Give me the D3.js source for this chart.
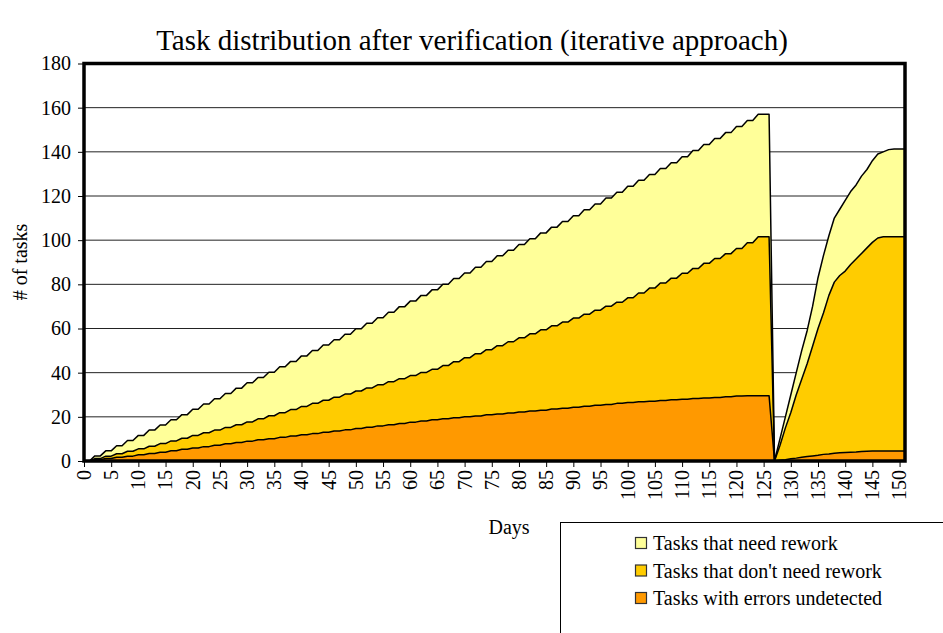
<!DOCTYPE html>
<html>
<head>
<meta charset="utf-8">
<script src="https://cdn.jsdelivr.net/npm/d3@7"></script>
<style>
  body { margin: 0; background: #fff; }
  text { font-family: "Liberation Serif", "Times New Roman", serif; fill: #000; }
</style>
</head>
<body>
<svg id="chart" width="943" height="633"></svg>
<script>
// values, one per day (0..151)
const errorsUndetected = [
  0, 0, 0.6, 0.6, 1.1, 1.1, 1.7, 1.7, 2.2, 2.2,
  2.8, 2.8, 3.4, 3.4, 4.0, 4.0, 4.6, 4.6, 5.3, 5.3,
  5.9, 5.9, 6.5, 6.5, 7.1, 7.1, 7.8, 7.8, 8.4, 8.4,
  9.0, 9.0, 9.6, 9.6, 10.1, 10.1, 10.7, 10.7, 11.3, 11.3,
  11.9, 11.9, 12.4, 12.4, 13.0, 13.0, 13.6, 13.6, 14.1, 14.1,
  14.7, 14.7, 15.3, 15.3, 15.9, 15.9, 16.4, 16.4, 17.0, 17.0,
  17.6, 17.6, 18.1, 18.1, 18.7, 18.7, 19.1, 19.1, 19.6, 19.6,
  20.0, 20.0, 20.4, 20.4, 20.9, 20.9, 21.3, 21.3, 21.7, 21.7,
  22.2, 22.2, 22.6, 22.6, 23.0, 23.0, 23.5, 23.5, 23.9, 23.9,
  24.3, 24.3, 24.8, 24.8, 25.2, 25.2, 25.6, 25.6, 26.1, 26.1,
  26.5, 26.5, 26.8, 26.8, 27.1, 27.1, 27.4, 27.4, 27.7, 27.7,
  28.0, 28.0, 28.3, 28.3, 28.5, 28.5, 28.8, 28.8, 29.1, 29.1,
  29.4, 29.4, 29.5, 29.5, 29.6, 29.6, 29.6, 0, 0.3, 0.6,
  1.0, 1.3, 1.7, 2.0, 2.3, 2.6, 3.0, 3.2, 3.5, 3.7,
  3.9, 4.0, 4.1, 4.3, 4.4, 4.5, 4.5, 4.5, 4.5, 4.5,
  4.5, 4.5
]

const noRework = [
  0, 0, 0.5, 0.5, 1.1, 1.1, 1.6, 1.6, 2.2, 2.2,
  2.7, 2.7, 3.3, 3.3, 3.9, 3.9, 4.5, 4.5, 5.0, 5.0,
  5.7, 5.7, 6.3, 6.3, 6.9, 6.9, 7.4, 7.4, 8.0, 8.0,
  8.7, 8.7, 9.5, 9.5, 10.4, 10.4, 11.2, 11.2, 12.0, 12.0,
  12.8, 12.8, 13.7, 13.7, 14.5, 14.5, 15.3, 15.3, 16.2, 16.2,
  17.0, 17.0, 17.8, 17.8, 18.6, 18.6, 19.5, 19.5, 20.3, 20.3,
  21.1, 21.1, 22.0, 22.0, 22.8, 22.8, 24.1, 24.1, 25.4, 25.4,
  26.8, 26.8, 28.2, 28.2, 29.5, 29.5, 30.9, 30.9, 32.3, 32.3,
  33.6, 33.6, 35.0, 35.0, 36.4, 36.4, 37.7, 37.7, 39.0, 39.0,
  40.4, 40.4, 41.7, 41.7, 43.1, 43.1, 44.5, 44.5, 45.8, 45.8,
  47.4, 47.4, 49.3, 49.3, 51.2, 51.2, 53.2, 53.2, 55.1, 55.1,
  57.0, 57.0, 58.9, 58.9, 61.0, 61.0, 62.9, 62.9, 64.8, 64.8,
  66.8, 66.8, 69.3, 69.3, 71.9, 71.9, 71.9, 0, 6.7, 14.4,
  21.0, 28.7, 35.3, 42.0, 49.7, 57.4, 64.0, 71.8, 77.5, 80.3,
  82.1, 85.0, 87.4, 89.7, 92.1, 94.5, 96.5, 97.0, 97.0, 97.0,
  97.0, 97.0
]

const needRework = [
  0, 0, 1.2, 1.2, 2.4, 2.4, 3.6, 3.6, 4.9, 4.9,
  6.1, 6.1, 7.3, 7.3, 8.4, 8.4, 9.6, 9.6, 10.7, 10.7,
  11.8, 11.8, 13.0, 13.0, 14.2, 14.2, 15.4, 15.4, 16.6, 16.6,
  17.7, 17.7, 18.7, 18.7, 19.7, 19.7, 20.8, 20.8, 21.8, 21.8,
  22.9, 22.9, 23.9, 23.9, 25.0, 25.0, 26.0, 26.0, 27.1, 27.1,
  28.2, 28.2, 29.3, 29.3, 30.4, 30.4, 31.5, 31.5, 32.6, 32.6,
  33.7, 33.7, 34.9, 34.9, 36.0, 36.0, 36.8, 36.8, 37.6, 37.6,
  38.3, 38.3, 39.1, 39.1, 39.9, 39.9, 40.7, 40.7, 41.4, 41.4,
  42.2, 42.2, 43.0, 43.0, 43.9, 43.9, 44.7, 44.7, 45.6, 45.6,
  46.4, 46.4, 47.3, 47.3, 48.1, 48.1, 49.0, 49.0, 49.8, 49.8,
  50.5, 50.5, 51.0, 51.0, 51.4, 51.4, 51.8, 51.8, 52.3, 52.3,
  52.8, 52.8, 53.4, 53.4, 53.8, 53.8, 54.3, 54.3, 54.8, 54.8,
  55.3, 55.3, 55.4, 55.4, 55.5, 55.5, 55.5, 0, 3, 5,
  8, 10, 13, 15, 18, 23, 26, 27, 29, 30,
  32, 33, 33.5, 35, 35.5, 37, 38, 38.5, 39.5, 39.8,
  39.8, 39.8
]

const dayTicks = [0, 5, 10, 15, 20, 25, 30, 35, 40, 45, 50, 55, 60, 65, 70, 75,
  80, 85, 90, 95, 100, 105, 110, 115, 120, 125, 130, 135, 140, 145, 150]
const taskTicks = [0, 20, 40, 60, 80, 100, 120, 140, 160, 180]

const seriesKeys = ["errors", "noRework", "rework"]
const seriesNames = {
  rework: "Tasks that need rework",
  noRework: "Tasks that don't need rework",
  errors: "Tasks with errors undetected"
}
const seriesColors = { rework: "#FFFF99", noRework: "#FFCC00", errors: "#FF9900" }

const rows = errorsUndetected.map((v, i) => ({
  day: i, errors: v, noRework: noRework[i], rework: needRework[i]
}))

const svg = d3.select("#chart")
const plotLeft = 84, plotRight = 905, plotTop = 63.5, plotBottom = 461

const x = d3.scaleLinear().domain([0, rows.length - 1]).range([plotLeft, plotRight])
const y = d3.scaleLinear().domain([0, 180]).range([plotBottom, plotTop])

// gridlines
svg.append("g")
  .selectAll("line")
  .data(taskTicks.slice(1, -1))
  .join("line")
    .attr("x1", plotLeft).attr("x2", plotRight)
    .attr("y1", d => y(d)).attr("y2", d => y(d))
    .attr("stroke", "#222").attr("stroke-width", 1)

const stacked = d3.stack().keys(seriesKeys)(rows)

const area = d3.area()
  .x(d => x(d.data.day))
  .y0(d => y(d[0]))
  .y1(d => y(d[1]))

const topLine = d3.line()
  .x(d => x(d.data.day))
  .y(d => y(d[1]))

svg.append("g")
  .selectAll("path")
  .data(stacked)
  .join("path")
    .attr("d", area)
    .attr("fill", s => seriesColors[s.key])

svg.append("g")
  .selectAll("path")
  .data(stacked)
  .join("path")
    .attr("d", topLine)
    .attr("fill", "none")
    .attr("stroke", "#000")
    .attr("stroke-width", 1.5)
    .attr("stroke-linejoin", "round")

// axes
const yAxis = svg.append("g")
  .attr("transform", `translate(${plotLeft},0)`)
  .call(d3.axisLeft(y).tickValues(taskTicks).tickSize(6).tickPadding(7))
yAxis.select(".domain").remove()
yAxis.selectAll("text").style("font-size", "20px").style("font-family", "Liberation Serif")

const xAxis = svg.append("g")
  .attr("transform", `translate(0,${plotBottom})`)
  .call(d3.axisBottom(x).tickValues(dayTicks).tickSize(6).tickPadding(0))
xAxis.select(".domain").remove()
xAxis.selectAll("text")
  .style("font-size", "20px").style("font-family", "Liberation Serif")
  .attr("transform", "rotate(-90)")
  .attr("text-anchor", "end")
  .attr("x", -9).attr("y", 0).attr("dy", "0.32em")

// plot frame
svg.append("rect")
  .attr("x", plotLeft).attr("y", plotTop)
  .attr("width", plotRight - plotLeft).attr("height", plotBottom - plotTop)
  .attr("fill", "none").attr("stroke", "#000").attr("stroke-width", 3.5)

svg.append("text")
  .attr("x", 472).attr("y", 50)
  .attr("text-anchor", "middle")
  .style("font-size", "29px")
  .text("Task distribution after verification (iterative approach)")

svg.append("text")
  .attr("transform", "translate(27,262) rotate(-90)")
  .attr("text-anchor", "middle")
  .style("font-size", "20px")
  .text("# of tasks")

svg.append("text")
  .attr("x", 509).attr("y", 534)
  .attr("text-anchor", "middle")
  .style("font-size", "20px")
  .text("Days")

// legend, box runs off the page like the original
const legend = svg.append("g")
legend.append("rect")
  .attr("x", 560.5).attr("y", 522.5)
  .attr("width", 420).attr("height", 150)
  .attr("fill", "#fff").attr("stroke", "#000").attr("stroke-width", 1)

const legendItems = legend.selectAll("g.item")
  .data(["rework", "noRework", "errors"])
  .join("g")
    .attr("class", "item")
    .attr("transform", (d, i) => `translate(635,${543 + i * 27.5})`)

legendItems.append("rect")
  .attr("x", 0.5).attr("y", -5.5)
  .attr("width", 11).attr("height", 11)
  .attr("fill", d => seriesColors[d])
  .attr("stroke", "#333").attr("stroke-width", 1.2)

legendItems.append("text")
  .attr("x", 18).attr("y", 0).attr("dy", "0.35em")
  .style("font-size", "20px")
  .text(d => seriesNames[d])
</script>
</body>
</html>
